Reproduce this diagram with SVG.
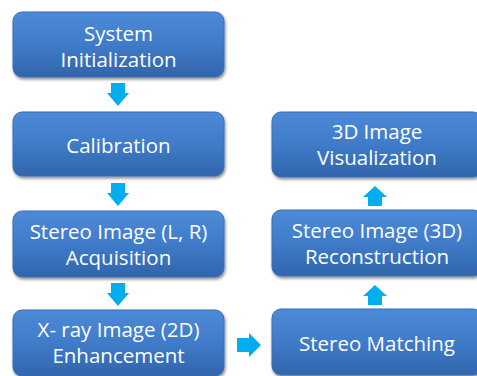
<svg xmlns="http://www.w3.org/2000/svg" width="477" height="376" viewBox="0 0 477 376">
<defs>
<linearGradient id="g" x1="0" y1="0" x2="0" y2="1">
<stop offset="0" stop-color="#4d8ad8"/>
<stop offset="0.5" stop-color="#3f7bc8"/>
<stop offset="1" stop-color="#3165ac"/>
</linearGradient>
<filter id="sh" x="-10%" y="-10%" width="125%" height="130%">
<feDropShadow dx="1" dy="2" stdDeviation="1.5" flood-color="#000" flood-opacity="0.45"/>
</filter>
</defs>
<style>
.box{fill:url(#g);stroke:#3a6fb8;stroke-width:1;filter:url(#sh)}
.t{font-family:"Open Sans","Noto Sans","Liberation Sans",sans-serif;font-size:20.5px;fill:#fff;text-anchor:middle}
.ar{fill:#00adef}
</style>
<g id="n1"><rect class="box" x="13" y="12" width="211" height="65" rx="9"/><text class="t"><tspan x="118.5" y="41">System</tspan><tspan x="118.5" y="67">Initialization</tspan></text></g>
<g id="n2"><rect class="box" x="13" y="112" width="211" height="64" rx="9"/><text class="t" x="118.5" y="153">Calibration</text></g>
<g id="n3"><rect class="box" x="13" y="211" width="211" height="66" rx="9"/><text class="t"><tspan x="118.5" y="239">Stereo Image (L, R)</tspan><tspan x="118.5" y="265">Acquisition</tspan></text></g>
<g id="n4"><rect class="box" x="13" y="310" width="211" height="66" rx="9"/><text class="t"><tspan x="118.5" y="337">X- ray Image (2D)</tspan><tspan x="118.5" y="363">Enhancement</tspan></text></g>
<g id="n5"><rect class="box" x="272" y="309" width="210" height="66" rx="9"/><text class="t" x="377" y="351">Stereo Matching</text></g>
<g id="n6"><rect class="box" x="272" y="210" width="210" height="66" rx="9"/><text class="t"><tspan x="377" y="238">Stereo Image (3D)</tspan><tspan x="377" y="264">Reconstruction</tspan></text></g>
<g id="n7"><rect class="box" x="272" y="112" width="210" height="65" rx="9"/><text class="t"><tspan x="377" y="139">3D Image</tspan><tspan x="377" y="165">Visualization</tspan></text></g>
<g id="connectors">
<path class="ar" d="M111,83h14v10h4l-11,13l-11,-13h4z"/>
<path class="ar" d="M111,183h14v10h4l-11,13l-11,-13h4z"/>
<path class="ar" d="M111,283h14v10h4l-11,13l-11,-13h4z"/>
<path class="ar" d="M237,338h12v-5l12,12l-12,12v-5h-12z"/>
<path class="ar" d="M368,305v-9h-5l12,-11l12,11h-5v9z"/>
<path class="ar" d="M368,206v-9h-5l12,-11l12,11h-5v9z"/>
</g>
</svg>
